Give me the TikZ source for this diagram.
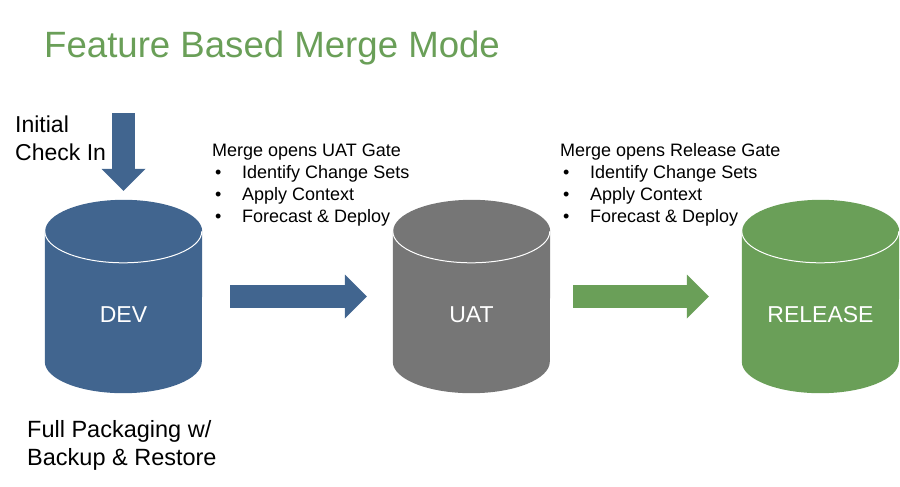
\documentclass[tikz,border=0pt]{standalone}
\usepackage{fontspec}
\setmainfont{Liberation Sans}
\usepackage{tikz}
\usetikzlibrary{arrows.meta, positioning, backgrounds}
\usepackage{xcolor}

\definecolor{devblue}{HTML}{41658F}
\definecolor{uatgray}{HTML}{767676}
\definecolor{relgreen}{HTML}{6A9F58}

\tikzset{
    db/.style={minimum width=157pt, minimum height=193pt, inner sep=0pt, text=white,
        text height=51pt, text depth=0pt, font=\fontsize{23}{27}\selectfont},
    blockarrow/.style={line width=23pt, -{Triangle[width=44pt, length=22pt, line width=0pt]}},
    plain/.style={anchor=base west, inner sep=0pt, align=left},
}
\newcommand{\bul}{\hspace*{3pt}\makebox[27pt][l]{\textbullet}}

\begin{document}
\begin{tikzpicture}[x=1pt, y=-1pt]
    \useasboundingbox (0,0) rectangle (900,487);

    % Title
    \node[plain, text=relgreen, font=\fontsize{36.6}{40}\selectfont] (title) at (44,58) {Feature Based Merge Mode};

    % The three databases
    \node[db] (dev) at (123.5,296.5) {DEV};
    \node[db] (uat) at (471.5,296.5) {UAT};
    \node[db] (rel) at (820.5,296.5) {RELEASE};

    % Cylinder bodies behind the names
    \begin{scope}[on background layer]
    \foreach \n/\c in {dev/devblue, uat/uatgray, rel/relgreen} {
        \fill[\c] ([yshift=-31.5pt]\n.north west) -- ([yshift=31.5pt]\n.south west)
            arc (180:360:78.5pt and 31.5pt) -- ([yshift=-31.5pt]\n.north east)
            arc (0:180:78.5pt and 31.5pt) -- cycle;
        \draw[white, line width=1pt] ([yshift=-31.5pt]\n.north west) arc (180:360:78.5pt and 31.5pt);
    }
    \end{scope}

    % Check in from above
    \coordinate (checkin) at (123.5,113);
    \draw[blockarrow, devblue, shorten >=9pt] (checkin) -- (dev);

    % Merges
    \draw[blockarrow, devblue, shorten <=28pt, shorten >=26pt] (dev) -- (uat);
    \draw[blockarrow, relgreen, shorten <=23pt, shorten >=33pt] (uat) -- (rel);

    % Labels
    \node[plain, font=\fontsize{23}{28}\selectfont] (initial) at (15,160) {Initial\\Check In};
    \node[plain, font=\fontsize{23.5}{28}\selectfont] (packaging) at (27,465) {Full Packaging w/\\Backup \& Restore};
    \node[plain, font=\fontsize{18}{22}\selectfont] (uatgate) at (212,222)
        {Merge opens UAT Gate\\\bul Identify Change Sets\\\bul Apply Context\\\bul Forecast \& Deploy};
    \node[plain, font=\fontsize{18}{22}\selectfont] (relgate) at (560,222)
        {Merge opens Release Gate\\\bul Identify Change Sets\\\bul Apply Context\\\bul Forecast \& Deploy};
\end{tikzpicture}
\end{document}
